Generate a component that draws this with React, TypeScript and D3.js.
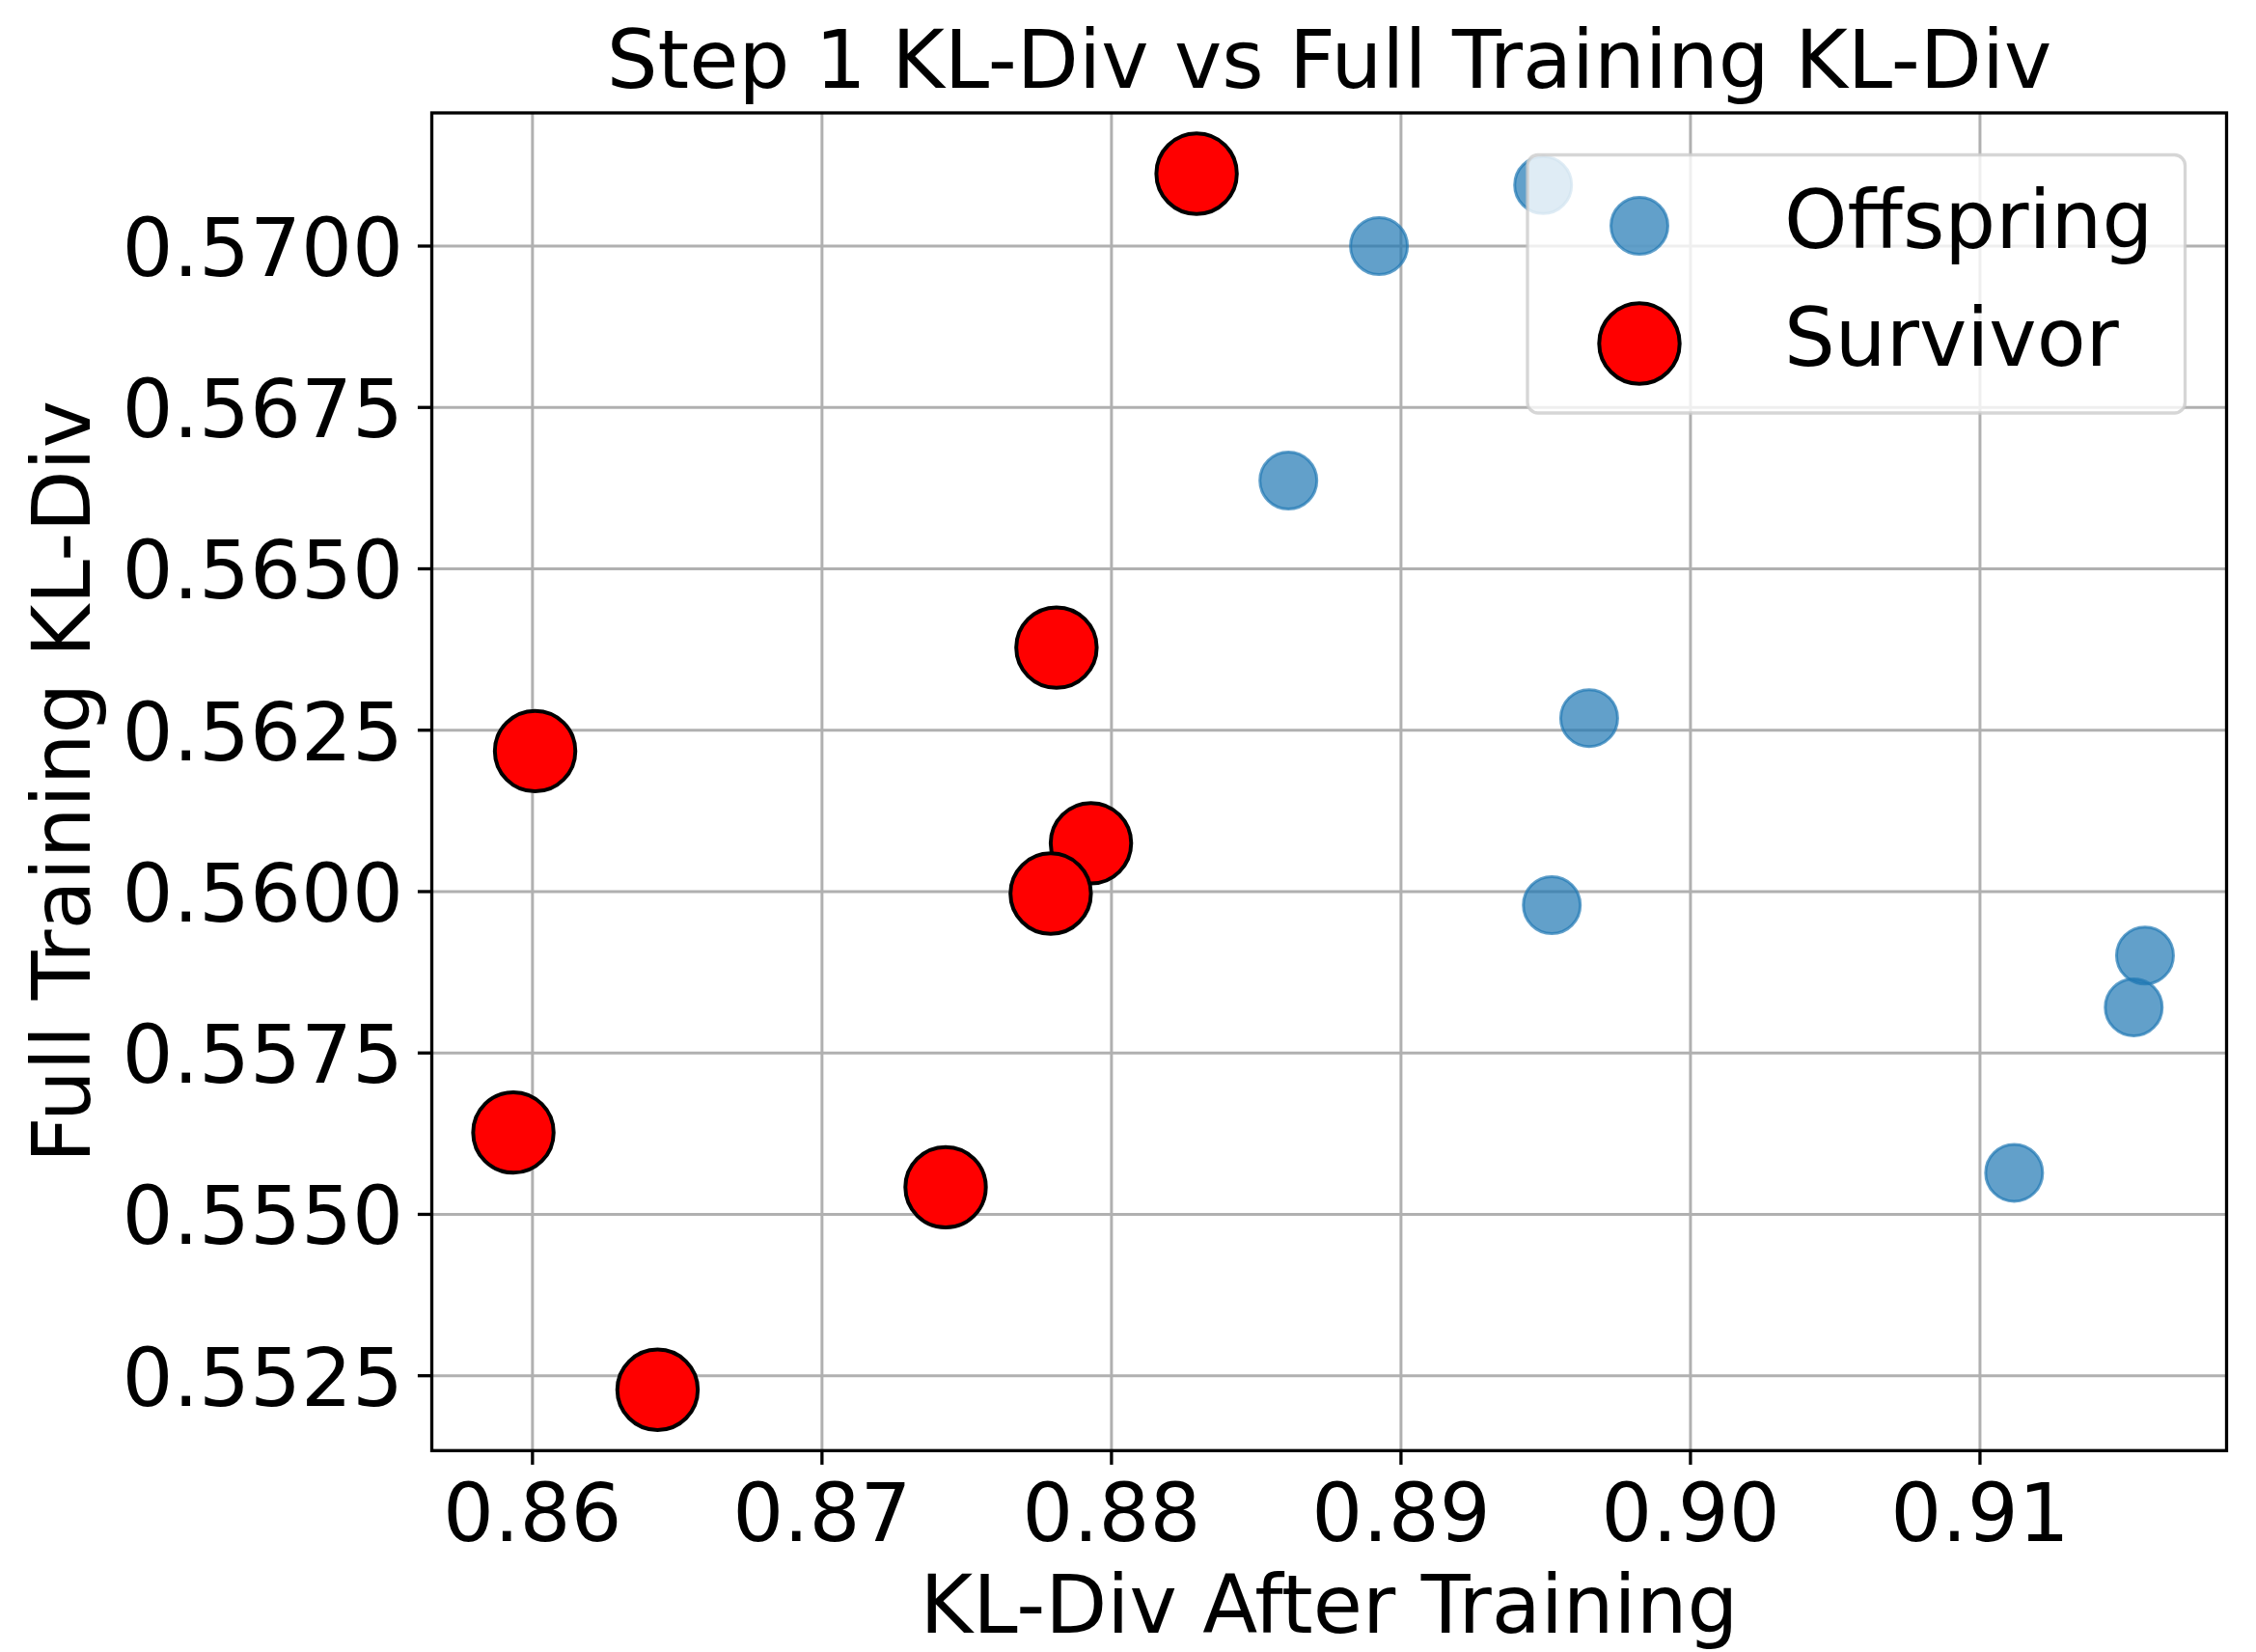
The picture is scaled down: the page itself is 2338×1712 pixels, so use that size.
import * as d3 from 'd3';
import React, { useEffect, useRef } from 'react';

const offspringX = [0.89491, 0.88924, 0.88611, 0.8965, 0.89521, 0.9157, 0.91531, 0.91118];
const offspringY = [0.570946, 0.57, 0.566367, 0.562688, 0.559791, 0.55901, 0.558207, 0.555643];

const survivorX = [0.88294, 0.8781, 0.86009, 0.87929, 0.8779, 0.85934, 0.87427, 0.86432];
const survivorY = [0.571121, 0.56378, 0.562176, 0.560749, 0.559969, 0.556268, 0.55542, 0.552282];

const xTicks = [0.86, 0.87, 0.88, 0.89, 0.9, 0.91];
const yTicks = [0.5525, 0.555, 0.5575, 0.56, 0.5625, 0.565, 0.5675, 0.57];

const seriesNames = ['Offspring', 'Survivor'];

const FONT = '"DejaVu Sans", sans-serif';

export default function App() {
  const ref = useRef<SVGSVGElement>(null);

  useEffect(() => {
    if (!ref.current) return;
    const width = 2338;
    const height = 1712;
    const left = 447.5, right = 2307.5, top = 117, bottom = 1503.3;

    const svg = d3.select(ref.current);
    svg.selectAll('*').remove();
    svg.attr('width', width).attr('height', height);

    // matplotlib style 5% margins around the data
    const allX = [...offspringX, ...survivorX];
    const allY = [...offspringY, ...survivorY];
    const [x0, x1] = d3.extent(allX) as [number, number];
    const [y0, y1] = d3.extent(allY) as [number, number];
    const mx = (x1 - x0) * 0.05;
    const my = (y1 - y0) * 0.05;

    const x = d3.scaleLinear().domain([x0 - mx, x1 + mx]).range([left, right]);
    const y = d3.scaleLinear().domain([y0 - my, y1 + my]).range([bottom, top]);

    svg.append('rect').attr('width', width).attr('height', height).attr('fill', 'white');

    // grid
    const grid = svg.append('g');
    grid.selectAll('.gx')
      .data(xTicks)
      .enter()
      .append('line')
      .attr('x1', d => x(d)).attr('x2', d => x(d))
      .attr('y1', top).attr('y2', bottom)
      .attr('stroke', '#b0b0b0').attr('stroke-width', 3);
    grid.selectAll('.gy')
      .data(yTicks)
      .enter()
      .append('line')
      .attr('y1', d => y(d)).attr('y2', d => y(d))
      .attr('x1', left).attr('x2', right)
      .attr('stroke', '#b0b0b0').attr('stroke-width', 3);

    const offspring = offspringX.map((v, i) => ({ x: v, y: offspringY[i] }));
    const survivor = survivorX.map((v, i) => ({ x: v, y: survivorY[i] }));

    svg.append('g').selectAll('circle')
      .data(offspring)
      .enter()
      .append('circle')
      .attr('cx', d => x(d.x))
      .attr('cy', d => y(d.y))
      .attr('r', 29.5)
      .attr('fill', '#1f77b4')
      .attr('fill-opacity', 0.7)
      .attr('stroke', '#1f77b4')
      .attr('stroke-opacity', 0.7)
      .attr('stroke-width', 3);

    svg.append('g').selectAll('circle')
      .data(survivor)
      .enter()
      .append('circle')
      .attr('cx', d => x(d.x))
      .attr('cy', d => y(d.y))
      .attr('r', 41.7)
      .attr('fill', '#ff0000')
      .attr('stroke', 'black')
      .attr('stroke-width', 4);

    // spines
    svg.append('rect')
      .attr('x', left).attr('y', top)
      .attr('width', right - left).attr('height', bottom - top)
      .attr('fill', 'none').attr('stroke', 'black').attr('stroke-width', 3.3);

    // ticks + labels
    const xt = svg.append('g').selectAll('g').data(xTicks).enter().append('g');
    xt.append('line')
      .attr('x1', d => x(d)).attr('x2', d => x(d))
      .attr('y1', bottom).attr('y2', bottom + 14.6)
      .attr('stroke', 'black').attr('stroke-width', 3.3);
    xt.append('text')
      .attr('x', d => x(d)).attr('y', 1597)
      .attr('text-anchor', 'middle')
      .style('font-family', FONT).style('font-size', '83.3px')
      .text(d => d3.format('.2f')(d));

    const yt = svg.append('g').selectAll('g').data(yTicks).enter().append('g');
    yt.append('line')
      .attr('x1', left - 14.6).attr('x2', left)
      .attr('y1', d => y(d)).attr('y2', d => y(d))
      .attr('stroke', 'black').attr('stroke-width', 3.3);
    yt.append('text')
      .attr('x', left - 29.5).attr('y', d => y(d) + 31)
      .attr('text-anchor', 'end')
      .style('font-family', FONT).style('font-size', '83.3px')
      .text(d => d3.format('.4f')(d));

    // titles
    svg.append('text')
      .attr('x', (left + right) / 2).attr('y', 91)
      .attr('text-anchor', 'middle')
      .style('font-family', FONT).style('font-size', '83.3px')
      .text('Step 1 KL-Div vs Full Training KL-Div');
    svg.append('text')
      .attr('x', (left + right) / 2).attr('y', 1692)
      .attr('text-anchor', 'middle')
      .style('font-family', FONT).style('font-size', '83.3px')
      .text('KL-Div After Training');
    svg.append('text')
      .attr('transform', `translate(93,${(top + bottom) / 2}) rotate(-90)`)
      .attr('text-anchor', 'middle')
      .style('font-family', FONT).style('font-size', '83.3px')
      .text('Full Training KL-Div');

    // legend
    const legend = svg.append('g');
    legend.append('rect')
      .attr('x', 1583).attr('y', 160.5)
      .attr('width', 2264.5 - 1583).attr('height', 428 - 160.5)
      .attr('rx', 11)
      .attr('fill', 'white').attr('fill-opacity', 0.8)
      .attr('stroke', '#cccccc').attr('stroke-opacity', 0.8).attr('stroke-width', 3.3);

    const rows = legend.selectAll('.row')
      .data(seriesNames)
      .enter()
      .append('g')
      .attr('transform', (d, i) => `translate(1699, ${234 + i * 122})`);

    rows.append('circle')
      .attr('r', (d, i) => (i === 0 ? 29.5 : 41.7))
      .attr('fill', (d, i) => (i === 0 ? '#1f77b4' : '#ff0000'))
      .attr('fill-opacity', (d, i) => (i === 0 ? 0.7 : 1))
      .attr('stroke', (d, i) => (i === 0 ? '#1f77b4' : 'black'))
      .attr('stroke-opacity', (d, i) => (i === 0 ? 0.7 : 1))
      .attr('stroke-width', (d, i) => (i === 0 ? 3 : 4));

    rows.append('text')
      .attr('x', 150).attr('y', 23)
      .style('font-family', FONT).style('font-size', '83.3px')
      .text(d => d);
  }, []);

  return (
    <svg ref={ref} style={{ position: 'absolute', left: 0, top: 0, display: 'block' }} />
  );
}
